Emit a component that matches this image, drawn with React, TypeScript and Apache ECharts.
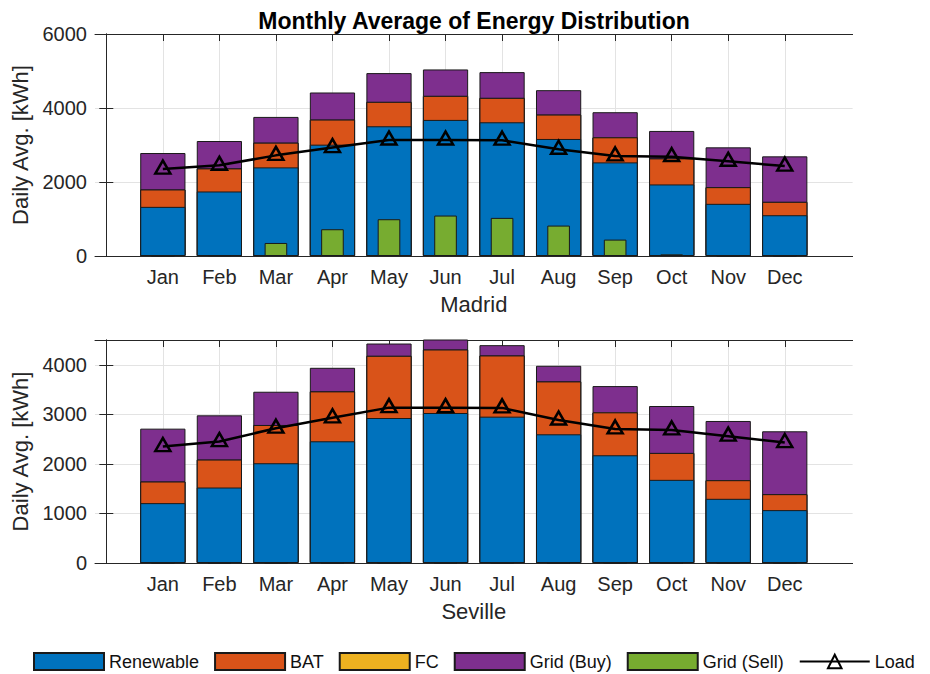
import React, { useEffect, useRef } from "react";
import * as echarts from "echarts";

// Month labels and their positions on the numeric x axis
const months = ["Jan", "Feb", "Mar", "Apr", "May", "Jun", "Jul", "Aug", "Sep", "Oct", "Nov", "Dec"];
const monthPos = [1, 2, 3, 4, 5, 6, 7, 8, 9, 10, 11, 12];

// Madrid – daily averages per source [kWh]
const madridRenewable = [1328, 1744, 2395, 3009, 3506, 3678, 3614, 3163, 2530, 1934, 1410, 1102];
const madridBat = [470, 623, 668, 678, 660, 650, 660, 659, 678, 704, 451, 362];
const madridFc = [0, 0, 0, 0, 0, 0, 0, 0, 0, 0, 0, 0];
const madridGridBuy = [985, 741, 696, 732, 777, 714, 696, 660, 678, 742, 1076, 1229];
const madridGridSell = [0, 25, 352, 723, 994, 1093, 1030, 822, 443, 45, 0, 0];

// Seville – daily averages per source [kWh]
const sevilleRenewable = [1208, 1523, 2013, 2456, 2926, 3027, 2953, 2597, 2174, 1678, 1295, 1067];
const sevilleBat = [436, 564, 772, 1007, 1255, 1281, 1235, 1067, 866, 543, 376, 322];
const sevilleFc = [0, 0, 0, 0, 0, 0, 0, 0, 0, 0, 0, 0];
const sevilleGridBuy = [1067, 893, 671, 476, 248, 222, 208, 316, 530, 947, 1195, 1269];
const sevilleGridSell = [0, 0, 0, 0, 0, 0, 0, 0, 0, 0, 0, 0];

// Building load (same profile at both sites)
const loadDemand = [2350, 2450, 2720, 2930, 3135, 3135, 3130, 2885, 2705, 2685, 2560, 2430];

// Y axis ranges
const madridYMax = 6000;
const madridYStep = 2000;
const sevilleYMax = 4500;
const sevilleYStep = 1000;

const FONT = "'Liberation Sans', Arial, Helvetica, sans-serif";
const AXIS_COLOR = "#262626";
const GRID_COLOR = "#e3e3e3";
const EDGE = "#1a1a1a";

const COLORS = {
  renewable: "#0072BD",
  bat: "#D95319",
  fc: "#EDB120",
  buy: "#7E2F8E",
  sell: "#77AC30",
};

const X_MIN = -0.2;
const X_MAX = 13.2;
const PLOT_LEFT = 95;
const PLOT_WIDTH = 757.6;
const SLOT = PLOT_WIDTH / (X_MAX - X_MIN);

const pairs = (vals: number[]) => vals.map((v, i) => [monthPos[i], v]);
const addArrays = (...arrs: number[][]) => arrs[0].map((_, i) => arrs.reduce((s, a) => s + a[i], 0));

function bottomXAxis(gridIndex: number, name: string) {
  return {
    type: "value",
    gridIndex,
    position: "bottom",
    min: X_MIN,
    max: X_MAX,
    name,
    nameLocation: "middle",
    nameGap: 37,
    nameTextStyle: { fontFamily: FONT, fontSize: 22, color: AXIS_COLOR },
    axisLine: { show: true, onZero: false, lineStyle: { color: AXIS_COLOR, width: 1 } },
    axisTick: { show: true, inside: true, length: 7, customValues: monthPos, lineStyle: { color: AXIS_COLOR } },
    axisLabel: {
      show: true,
      customValues: monthPos,
      margin: 11,
      fontFamily: FONT,
      fontSize: 20,
      color: AXIS_COLOR,
      formatter: (v: number) => months[Math.round(v) - 1] ?? "",
    },
    splitLine: { show: true, lineStyle: { color: GRID_COLOR, width: 1 } },
  };
}

function topXAxis(gridIndex: number) {
  return {
    type: "value",
    gridIndex,
    position: "top",
    min: X_MIN,
    max: X_MAX,
    axisLine: { show: true, onZero: false, lineStyle: { color: AXIS_COLOR, width: 1 } },
    axisTick: { show: true, inside: true, length: 7, customValues: monthPos, lineStyle: { color: AXIS_COLOR } },
    axisLabel: { show: false, customValues: monthPos },
    splitLine: { show: false },
  };
}

function leftYAxis(gridIndex: number, max: number, interval: number) {
  return {
    type: "value",
    gridIndex,
    position: "left",
    min: 0,
    max,
    interval,
    name: "Daily Avg. [kWh]",
    nameLocation: "middle",
    nameGap: 57,
    nameTextStyle: { fontFamily: FONT, fontSize: 22, color: AXIS_COLOR },
    axisLine: { show: true, lineStyle: { color: AXIS_COLOR, width: 1 } },
    axisTick: { show: true, inside: true, length: 7, lineStyle: { color: AXIS_COLOR } },
    axisLabel: {
      margin: 8,
      fontFamily: FONT,
      fontSize: 20,
      color: AXIS_COLOR,
      showMaxLabel: max % interval === 0,
      formatter: (v: number) => String(v),
    },
    splitLine: { show: true, lineStyle: { color: GRID_COLOR, width: 1 } },
  };
}

function rightYAxis(gridIndex: number, max: number, interval: number) {
  return {
    type: "value",
    gridIndex,
    position: "right",
    min: 0,
    max,
    interval,
    axisLine: { show: true, lineStyle: { color: AXIS_COLOR, width: 1 } },
    axisTick: { show: true, inside: true, length: 7, lineStyle: { color: AXIS_COLOR } },
    axisLabel: { show: false },
    splitLine: { show: false },
  };
}

// Stacked columns are drawn as overlapping bars of cumulative height,
// tallest first, so every segment sits on the one below it.
function siteSeries(
  xBottom: number,
  xTop: number,
  yIdx: number,
  renewable: number[],
  bat: number[],
  fc: number[],
  buy: number[],
  sell: number[]
) {
  const level = (name: string, data: number[], color: string) => ({
    name,
    type: "bar",
    xAxisIndex: xBottom,
    yAxisIndex: yIdx,
    barWidth: SLOT * 0.8,
    barGap: "-100%",
    clip: true,
    data: pairs(data),
    itemStyle: { color, borderColor: EDGE, borderWidth: 1 },
    emphasis: { disabled: true },
  });
  return [
    level("Grid (Buy)", addArrays(renewable, bat, fc, buy), COLORS.buy),
    level("FC", addArrays(renewable, bat, fc), COLORS.fc),
    level("BAT", addArrays(renewable, bat), COLORS.bat),
    level("Renewable", renewable, COLORS.renewable),
    {
      name: "Grid (Sell)",
      type: "bar",
      xAxisIndex: xTop,
      yAxisIndex: yIdx,
      barWidth: SLOT * 0.4,
      clip: true,
      data: pairs(sell),
      itemStyle: { color: COLORS.sell, borderColor: EDGE, borderWidth: 1 },
      emphasis: { disabled: true },
    },
    {
      name: "Load",
      type: "line",
      xAxisIndex: xBottom,
      yAxisIndex: yIdx,
      z: 5,
      data: pairs(loadDemand),
      symbol: "triangle",
      symbolSize: [15, 13],
      symbolOffset: [0, -2],
      showAllSymbol: true,
      lineStyle: { color: "#000", width: 2.5 },
      itemStyle: { color: "rgba(0,0,0,0)", borderColor: "#000", borderWidth: 2.5 },
      emphasis: { disabled: true },
    },
  ];
}

export default function App() {
  const ref = useRef<HTMLDivElement>(null);

  useEffect(() => {
    if (!ref.current) return;
    const chart = echarts.init(ref.current, null, { renderer: "svg" });

    const option = {
      animation: false,
      backgroundColor: "#ffffff",
      textStyle: { fontFamily: FONT },
      graphic: [
        {
          type: "text",
          x: 474,
          y: 21,
          style: {
            text: "Monthly Average of Energy Distribution",
            fontFamily: FONT,
            fontSize: 23,
            fontWeight: "bold",
            fill: "#000",
            textAlign: "center",
            textVerticalAlign: "middle",
          },
        },
      ],
      legend: {
        left: 28,
        top: 647,
        itemWidth: 70,
        itemHeight: 17,
        itemGap: 15,
        textStyle: { fontFamily: FONT, fontSize: 18, color: "#111" },
        data: [
          { name: "Renewable", icon: "rect" },
          { name: "BAT", icon: "rect" },
          { name: "FC", icon: "rect" },
          { name: "Grid (Buy)", icon: "rect" },
          { name: "Grid (Sell)", icon: "rect" },
          { name: "Load" },
        ],
        selectedMode: false,
      },
      grid: [
        { left: PLOT_LEFT, top: 34, width: PLOT_WIDTH, height: 222, containLabel: false },
        { left: PLOT_LEFT, top: 340, width: PLOT_WIDTH, height: 223, containLabel: false },
      ],
      xAxis: [bottomXAxis(0, "Madrid"), topXAxis(0), bottomXAxis(1, "Seville"), topXAxis(1)],
      yAxis: [
        leftYAxis(0, madridYMax, madridYStep),
        rightYAxis(0, madridYMax, madridYStep),
        leftYAxis(1, sevilleYMax, sevilleYStep),
        rightYAxis(1, sevilleYMax, sevilleYStep),
      ],
      series: [
        ...siteSeries(0, 1, 0, madridRenewable, madridBat, madridFc, madridGridBuy, madridGridSell),
        ...siteSeries(2, 3, 2, sevilleRenewable, sevilleBat, sevilleFc, sevilleGridBuy, sevilleGridSell),
      ],
    };

    chart.setOption(option as any);
    return () => chart.dispose();
  }, []);

  return (
    <div
      ref={ref}
      style={{ position: "fixed", left: 0, top: 0, width: 930, height: 674, background: "#fff" }}
    />
  );
}
